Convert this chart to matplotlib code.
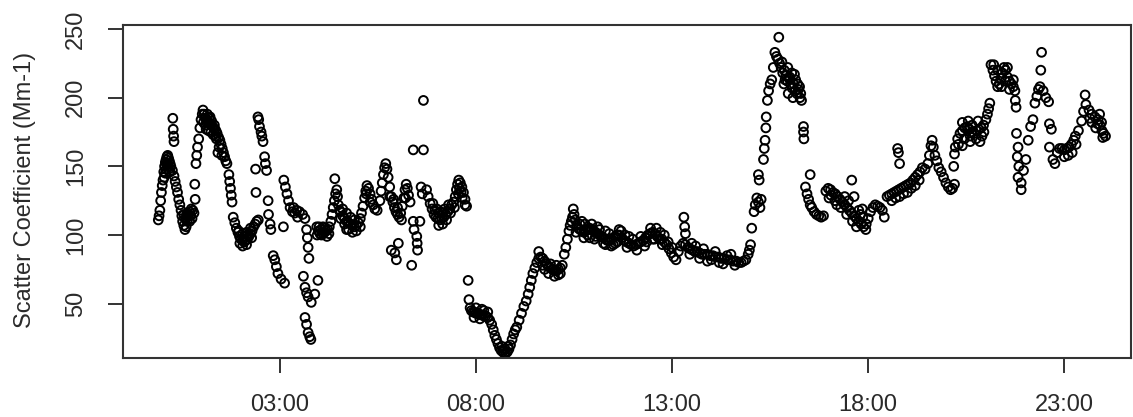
import numpy as np
import matplotlib
matplotlib.use("Agg")
import matplotlib.pyplot as plt

# scatter coefficient readings, (hour of day, Mm-1)
night = [(-0.10,111),(-0.08,114),(-0.06,118),(-0.04,125),(-0.02,131),(0.00,136),(0.02,140),
         (0.04,146),(0.06,150),(0.08,153),(0.10,155),(0.12,157),(0.14,158),(0.16,156),(0.18,154),
         (0.20,152),(0.22,150),(0.27,185),(0.28,177),(0.29,172),(0.30,168),(0.26,147),(0.30,143),
         (0.33,139),(0.36,135),(0.39,131),(0.42,126),(0.45,122),(0.48,118),(0.50,114),(0.52,110),
         (0.55,107),(0.58,104),(0.61,106),(0.64,110),(0.67,114),(0.70,117),(0.74,119),(0.78,118),
         (0.81,116),(0.83,137),(0.84,126),(0.86,152),(0.88,158),(0.90,164),(0.93,170),(0.96,178),
         (0.99,184),(1.02,188),(1.04,191),(1.07,188),(1.10,185),(1.13,184),(1.16,183),(1.19,182),
         (1.22,181),(1.25,180),(1.28,179),(1.31,178),(1.34,177),(1.37,176),(1.40,174),(1.42,160),
         (1.44,171),(1.47,169),(1.50,166),(1.53,163),(1.56,160),(1.59,157),(1.62,154),(1.65,152),
         (1.70,144),(1.72,139),(1.74,134),(1.76,129),(1.78,124),(1.81,113),(1.85,109),(1.89,105),
         (1.93,102),(1.97,99),(2.01,97),(2.05,96),(2.09,95),(2.13,96),(2.17,97),(2.21,99),
         (2.25,101),(2.29,103),(2.33,106),(2.37,108),(2.41,110),(2.45,111),(2.38,148),(2.39,131),
         (2.44,186),(2.46,184),(2.48,179),(2.52,175),(2.54,172),(2.57,168),(2.61,157),(2.63,152),
         (2.66,147),(2.70,125),(2.71,115),(2.75,108),(2.77,104),(2.83,85),(2.87,82),(2.91,77),
         (2.95,72),(3.03,68),(3.12,65),(3.09,106),(3.10,140),(3.14,135),(3.18,130),(3.22,125),
         (3.26,120),(3.32,117),(3.38,116),(3.43,118),(3.50,117),(3.58,115),(3.64,112),(3.68,104),
         (3.70,98),(3.72,91),(3.74,83),(3.60,70),(3.64,62),(3.68,58),(3.72,55),(3.80,51),
         (3.89,57),(3.97,67),(3.64,40),(3.68,35),(3.72,29),(3.76,26),(3.79,24),(3.94,106),
         (3.98,103),(4.02,101),(4.06,100),(4.10,101),(4.14,102),(4.18,103),(4.22,104),(4.26,106),
         (4.30,110),(4.33,115),(4.36,120),(4.39,125),(4.42,130),(4.40,141),
         # spread of the dense stretches
         (0.10,148),(0.14,150),(0.18,146),(0.55,115),(0.62,115),(0.70,110),(0.76,112),
         (1.12,177),(1.18,176),(1.24,175),(1.30,173),(1.36,172),(1.15,188),(1.22,186),
         (1.95,103),(2.05,101),(2.15,102),(2.25,105),(2.05,92),(2.15,93),
         (4.00,106),(4.10,106),(4.20,99),
         (0.05,142),(0.08,145),(0.12,152),(0.16,150),(0.20,146),(0.60,112),(0.66,116),
         (0.72,114),(1.05,182),(1.10,180),(1.20,185),(1.26,183),(1.33,180),(1.38,170),
         (1.45,164),(1.52,158),(1.98,94),(2.08,99),(2.18,100),(2.28,98),(3.95,100),
         (4.05,104),(4.15,105),(4.25,101),(3.35,120),(3.45,113)]

morning = [(4.45,133),(4.47,128),(4.49,122),(4.52,118),(4.55,117),(4.60,114),(4.65,112),
           (4.70,110),(4.75,109),(4.80,108),(4.85,107),(4.90,106),(4.95,107),(5.00,109),(5.05,112),
           (5.08,116),(5.12,121),(5.16,127),(5.19,132),(5.22,136),(5.26,134),(5.30,130),(5.34,126),
           (5.38,122),(5.42,119),(5.48,118),(5.55,125),(5.58,132),(5.61,138),(5.64,144),(5.67,149),
           (5.70,152),(5.73,148),(5.76,142),(5.80,135),(5.84,128),(5.88,124),(5.92,120),(5.96,117),
           (6.00,115),(6.04,113),(6.08,116),(6.12,121),(6.16,127),(6.19,133),(6.22,137),(6.25,134),
           (6.28,129),(6.32,124),(5.84,89),(5.93,87),(5.97,82),(6.02,94),(6.36,78),(6.40,110),
           (6.42,104),(6.49,99),(6.50,94),(6.51,89),(6.57,110),(6.40,162),(6.66,162),(6.66,198),
           (6.60,135),(6.63,130),(6.74,133),(6.78,128),(6.83,123),(6.88,119),(6.93,115),(6.98,113),
           (7.03,112),(7.08,111),(7.13,112),(7.18,113),(7.23,115),(7.28,117),(7.33,119),(7.38,122),
           (7.43,124),(7.47,128),(7.50,133),(7.53,137),(7.56,140),(7.60,138),(7.64,135),(7.68,131),
           (7.72,126),(7.72,122),(7.76,121),(7.80,67),(7.82,53),(7.85,47),(7.88,45),(7.92,44),
           (7.96,44),(8.00,43),(8.05,43),(8.10,42),(8.15,42),(8.20,41),(8.25,41),(8.30,40),
           (8.35,38),(8.40,35),(8.44,31),(8.48,27),(8.52,24),(8.56,21),(8.60,18),(8.64,16),
           (8.68,15),(8.72,14),(8.76,14),(8.80,15),(8.84,17),(8.88,20),(8.92,24),(8.96,28),
           # spread of the dense stretches
           (4.60,119),(4.70,116),(4.80,113),(4.90,111),(4.70,104),(4.85,102),
           (6.90,123),(7.00,119),(7.10,117),(7.20,119),(7.30,122),(7.05,107),(7.15,108),
           (7.55,130),(7.65,127),(7.95,40),(8.10,39),(8.20,45),
           (4.55,112),(4.65,108),(4.75,104),(4.95,103),(5.05,106),(5.20,130),(5.30,124),
           (5.80,128),(5.90,126),(6.00,120),(6.10,111),(6.20,127),(6.95,118),(7.05,116),
           (7.15,116),(7.25,111),(7.35,116),(7.45,120),(7.58,134),(7.62,131),(8.00,47),
           (8.15,46),(8.30,44),(8.66,19),(8.74,17),(8.82,19)]

midday = [(9.00,31),(9.04,33),(9.10,38),(9.16,43),(9.22,48),(9.28,52),(9.33,57),(9.37,62),
          (9.41,67),(9.45,72),(9.50,76),(9.55,80),(9.60,83),(9.65,84),(9.70,83),(9.75,81),
          (9.80,79),(9.85,77),(9.90,76),(9.95,75),(10.00,74),(10.05,74),(10.10,75),(10.15,76),
          (10.20,78),(10.25,86),(10.29,91),(10.33,97),(10.37,103),(10.40,107),(10.43,110),
          (10.46,113),(10.48,119),(10.50,115),(10.53,111),(10.57,107),(10.61,105),(10.65,104),
          (10.70,103),(10.75,102),(10.80,103),(10.85,104),(10.90,105),(10.95,104),(11.00,103),
          (11.05,102),(11.10,101),(11.15,100),(11.20,99),(11.25,98),(11.30,97),(11.35,96),
          (11.40,96),(11.45,97),(11.50,98),(11.55,99),(11.60,100),(11.65,100),(10.78,108),
          (11.02,97),(11.30,93),(11.55,94),(11.72,98),(11.78,96),(11.84,95),(11.90,94),
          (11.96,93),(12.02,92),(12.08,93),(12.14,94),(12.20,95),(12.26,96),(12.32,98),
          (12.38,100),(12.44,101),(12.50,102),(12.56,101),(12.62,99),(12.68,97),(12.74,97),
          (12.80,95),(12.86,93),(12.92,90),(12.98,87),(13.04,84),(13.10,82),(13.30,113),
          (13.32,106),(13.34,101),(13.16,88),(13.22,92),(13.28,94),(13.34,93),(13.40,91),
          (13.46,90),(13.52,89),(13.58,88),(13.64,88),(13.70,87),(13.76,86),(13.82,86),
          (13.90,86),(13.97,85),(14.04,85),(14.11,84),(14.18,84),(14.25,83),(14.32,83),
          (14.40,82),(14.48,82),(14.56,81),(14.64,81),
          # spread of the dense stretches
          (9.60,88),(9.70,78),(9.85,72),(10.00,70),(10.10,71),
          (10.70,110),(10.90,98),(11.10,106),(11.30,103),(11.50,93),(11.70,103),(11.90,99),
          (12.10,89),(12.30,92),(12.50,97),(12.60,105),(12.80,100),
          (13.50,94),(13.70,83),(13.90,81),(14.10,88),(14.30,79),(14.50,86),
          (9.75,75),(9.90,79),(10.05,78),(10.15,72),(10.55,102),(10.65,108),(10.75,98),
          (10.85,100),(10.95,108),(11.05,99),(11.15,104),(11.25,94),(11.40,101),(11.45,92),
          (11.60,95),(11.65,104),(11.80,100),(11.85,91),(12.00,97),(12.20,99),(12.35,95),
          (12.45,105),(12.55,97),(12.70,102),(12.75,93),(12.90,95),(13.00,91),(13.45,86),
          (13.60,92),(13.80,90),(14.00,82),(14.20,80),(14.40,85),(14.60,78)]

afternoon = [(14.70,80),(14.76,80),(14.82,81),(14.88,82),(14.94,86),(14.97,89),(15.00,93),
             (15.03,105),(15.09,117),(15.12,122),(15.16,127),(15.20,124),(15.24,120),(15.27,126),
             (15.20,144),(15.22,140),(15.33,155),(15.35,163),(15.37,169),(15.39,178),(15.40,186),
             (15.43,198),(15.46,205),(15.50,210),(15.54,213),(15.58,222),(15.62,233),(15.66,230),
             (15.72,244),(15.70,228),(15.74,225),(15.78,222),(15.82,218),(15.86,220),(15.90,216),
             (15.94,212),(15.98,214),(16.02,210),(16.06,207),(16.10,210),(16.14,205),(16.18,203),
             (16.22,206),(16.26,200),(16.30,198),(15.96,203),(16.08,200),(16.35,179),(16.35,175),
             (16.36,170),(16.52,144),(16.40,135),(16.44,130),(16.48,126),(16.52,122),(16.56,120),
             (16.62,117),(16.68,115),(16.74,114),(16.80,113),(16.86,114),(16.92,132),(16.98,134),
             (17.04,133),(17.10,131),(17.16,130),(17.22,128),(17.28,126),(17.34,124),(17.40,122),
             (17.46,120),(17.52,118),(17.58,116),(17.64,114),(17.70,112),(17.76,110),(17.82,108),
             (17.88,106),(17.94,104),(17.58,140),(17.64,128),(17.76,118),(17.86,113),(18.00,112),
             (18.06,117),(18.12,120),(18.18,122),(18.24,121),(18.30,120),(18.36,118),(18.41,113),
             (18.48,128),(18.54,129),(18.60,130),(18.66,131),(18.72,132),(18.78,133),(18.84,134),
             (18.90,135),(18.96,136),(19.02,137),(19.08,138),(19.14,140),(19.20,142),(19.26,144),
             (19.32,146),(19.38,149),(18.75,163),(18.77,160),(18.80,152),
             # spread of the dense stretches
             (15.85,210),(15.95,222),(16.05,218),(16.15,213),(16.25,208),
             (17.00,127),(17.20,122),(17.40,128),(17.60,110),(17.80,115),(17.50,125),
             (18.60,125),(18.80,128),(19.00,131),(19.20,136),
             (15.80,226),(15.88,213),(16.00,215),(16.12,217),(16.20,210),(16.28,203),
             (17.05,129),(17.15,125),(17.30,120),(17.45,115),(17.70,106),(17.85,119),
             (17.95,108),(18.70,127),(18.90,130),(19.10,134),(19.30,140)]

evening = [(19.45,148),(19.52,152),(19.56,158),(19.60,165),(19.63,169),(19.66,164),(19.70,158),
           (19.75,154),(19.80,149),(19.86,146),(19.92,142),(19.98,138),(20.04,135),(20.10,133),
           (20.15,134),(20.20,137),(20.18,150),(20.20,159),(20.22,164),(20.28,170),(20.34,174),
           (20.40,176),(20.46,178),(20.52,179),(20.58,177),(20.64,175),(20.70,174),(20.76,176),
           (20.82,177),(20.88,178),(20.94,180),(21.00,184),(21.04,188),(21.07,192),(21.10,196),
           (20.40,165),(20.60,168),(20.85,168),(21.13,224),(21.18,220),(21.22,216),(21.26,212),
           (21.30,208),(21.34,210),(21.38,214),(21.42,218),(21.46,222),(21.50,220),(21.55,215),
           (21.60,212),(21.65,210),(21.70,208),(21.74,205),(21.75,198),(21.77,193),(21.78,174),
           (21.82,164),(21.80,157),(21.84,150),(21.82,142),(21.90,138),(21.90,133),(21.96,147),
           (22.02,155),(22.08,169),(22.14,179),(22.20,184),(22.25,196),(22.30,201),(22.34,206),
           (22.38,208),(22.40,220),(22.42,233),(22.46,205),(22.53,200),(22.60,197),(22.62,181),
           (22.67,177),(22.62,164),(22.71,155),(22.76,152),(22.82,160),(22.88,163),(22.94,163),
           (23.00,162),(23.06,163),(23.12,164),(23.18,166),(23.24,169),(23.28,172),(23.36,176),
           (23.44,183),(23.49,190),(23.53,202),(23.55,195),(23.63,191),(23.70,188),(23.78,186),
           (23.86,184),(23.91,180),(23.96,176),(24.00,174),(24.05,172),(23.98,171),
           # spread of the dense stretches
           (20.40,182),(20.60,172),(20.80,183),(20.90,172),(21.30,220),(21.50,212),(21.60,206),
           (23.00,157),(23.20,160),(23.70,182),(23.90,188),(23.80,178),
           (20.30,166),(20.45,170),(20.55,183),(20.65,180),(20.75,170),(20.95,175),(21.20,224),
           (21.40,208),(21.55,222),(21.70,213),(23.10,158),(23.30,166),(23.65,185),(23.85,181),
           (23.95,182)]

tick_hours = [3, 8, 13, 18, 23]
tick_labels = ["03:00", "08:00", "13:00", "18:00", "23:00"]
y_ticks = [50, 100, 150, 200, 250]

plt.rcParams["font.family"] = ["Liberation Sans", "DejaVu Sans"]

fig = plt.figure(figsize=(11.33, 4.17), dpi=100)
ax = fig.add_axes([123/1133, 59/417, 1008/1133, 333/417])

for seg in (night, morning, midday, afternoon, evening):
    t, v = np.array(seg, dtype=float).T
    ax.scatter(t, v, s=40, facecolors="none", edgecolors="black", linewidths=1.4)

ax.set_xlim(-1.0, 24.7)
ax.set_ylim(10.5, 252.9)
ax.set_xticks(tick_hours)
ax.set_xticklabels(tick_labels)
ax.set_yticks(y_ticks)
ax.set_yticklabels([str(y) for y in y_ticks], rotation=90, va="center")

for s in ax.spines.values():
    s.set_linewidth(1.5)
    s.set_color("#333333")
ax.tick_params(length=11, width=1.4, color="#333333", labelsize=17,
               labelcolor="#2a2a2a", pad=15)

fig.text(25/1133, 1 - 190/417, "Scatter Coefficient (Mm-1)", rotation=90,
         ha="center", va="center", fontsize=17, color="#2a2a2a")

fig.savefig("out.png", dpi=100)
